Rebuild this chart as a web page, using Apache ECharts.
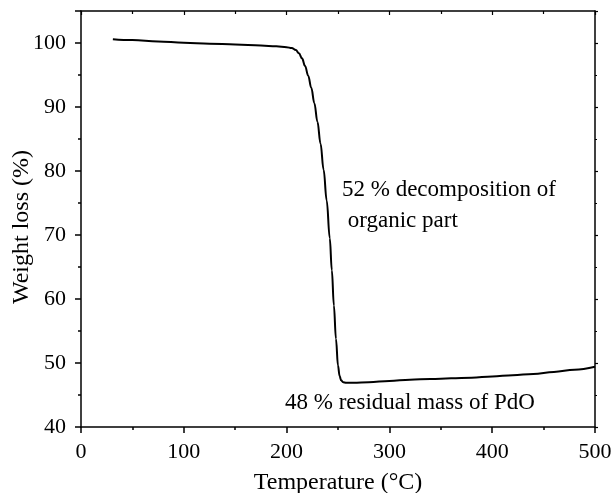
<!DOCTYPE html>
<html>
<head>
<meta charset="utf-8">
<script src="https://cdn.jsdelivr.net/npm/echarts@6/dist/echarts.min.js"></script>
<style>html,body{margin:0;padding:0;background:#fff;}#c{width:613px;height:493px;}</style>
</head>
<body>
<div id="c"></div>
<script>
var temperature = [31, 50, 75, 100, 125, 150, 175, 190, 200, 205, 209, 212, 215, 218, 221, 224, 227, 230, 233, 236, 239, 242, 244, 246, 248, 250, 251.5, 253, 255, 258, 265, 280, 300, 320, 340, 360, 380, 400, 420, 440, 460, 480, 500];
var weight = [100.6, 100.45, 100.25, 100.05, 99.9, 99.75, 99.6, 99.5, 99.35, 99.2, 98.9, 98.4, 97.6, 96.4, 94.9, 93.0, 90.6, 87.7, 84.3, 80.2, 75.4, 69.5, 64.5, 59.0, 53.8, 49.6, 48.0, 47.3, 47.0, 46.9, 46.9, 47.0, 47.2, 47.4, 47.5, 47.6, 47.7, 47.9, 48.1, 48.3, 48.6, 48.95, 49.4];
var xTicks = [0, 100, 200, 300, 400, 500];
var yTicks = [40, 50, 60, 70, 80, 90, 100];
var annotations = ['52 % decomposition of', ' organic part', '48 % residual mass of PdO'];

var font = '"Liberation Serif", "DejaVu Serif", serif';
var chart = echarts.init(document.getElementById('c'), null, {renderer: 'canvas'});
var data = temperature.map(function (t, i) { return [t, weight[i]]; });
var lineStyleAxis = {color: '#000', width: 1.5};
chart.setOption({
  animation: false,
  grid: {left: 81, right: 18, top: 11, bottom: 66, containLabel: false, outerBoundsMode: 'none'},
  xAxis: [{
    type: 'value', min: 0, max: 500, interval: 100, position: 'bottom',
    name: 'Temperature (°C)', nameLocation: 'middle', nameGap: 44,
    nameTextStyle: {fontFamily: font, fontSize: 24, color: '#000'},
    axisLine: {show: true, lineStyle: lineStyleAxis},
    axisTick: {show: true, inside: false, length: 6, lineStyle: {color: '#000', width: 1.5}},
    minorTick: {show: true, splitNumber: 2, length: 3, lineStyle: {color: '#000', width: 1.5}},
    axisLabel: {fontFamily: font, fontSize: 22, color: '#000', margin: 14,
      formatter: function (v) { return xTicks.indexOf(v) >= 0 ? String(v) : ''; }},
    splitLine: {show: false}
  }, {
    type: 'value', min: 0, max: 500, interval: 100, position: 'top',
    axisLine: {show: true, onZero: false, lineStyle: lineStyleAxis},
    axisTick: {show: true, inside: true, length: 4, lineStyle: {color: '#000', width: 1.2}},
    minorTick: {show: true, splitNumber: 2, length: 3, lineStyle: {color: '#000', width: 1.2}},
    axisLabel: {show: false},
    splitLine: {show: false}
  }],
  yAxis: [{
    type: 'value', min: 40, max: 105, interval: 10, position: 'left',
    name: 'Weight loss (%)', nameLocation: 'middle', nameGap: 47, nameMoveOverlap: false,
    nameTextStyle: {fontFamily: font, fontSize: 24, color: '#000', padding: [0, 16, 0, 0]},
    axisLine: {show: true, lineStyle: lineStyleAxis},
    axisTick: {show: true, inside: false, length: 6, lineStyle: {color: '#000', width: 1.5}},
    minorTick: {show: true, splitNumber: 2, length: 3, lineStyle: {color: '#000', width: 1.5}},
    axisLabel: {fontFamily: font, fontSize: 22, color: '#000', margin: 15,
      formatter: function (v) { return yTicks.indexOf(v) >= 0 ? String(v) : ''; }},
    splitLine: {show: false}
  }, {
    type: 'value', min: 40, max: 105, interval: 10, position: 'right',
    axisLine: {show: true, onZero: false, lineStyle: lineStyleAxis},
    axisTick: {show: true, inside: false, length: 3, lineStyle: {color: '#000', width: 1.2}},
    minorTick: {show: true, splitNumber: 2, length: 2, lineStyle: {color: '#000', width: 1.2}},
    axisLabel: {show: false},
    splitLine: {show: false}
  }],
  series: [{
    type: 'line', xAxisIndex: 0, yAxisIndex: 0, data: data,
    showSymbol: false, symbol: 'none', smooth: 0.4, smoothMonotone: 'x',
    lineStyle: {color: '#000', width: 2}
  }],
  graphic: [
    {type: 'text', left: 342, top: 178, style: {text: annotations[0], font: '23px ' + font, fill: '#000'}},
    {type: 'text', left: 342, top: 209, style: {text: annotations[1], font: '23px ' + font, fill: '#000'}},
    {type: 'text', left: 285, top: 391, style: {text: annotations[2], font: '23px ' + font, fill: '#000'}}
  ]
});
</script>
</body>
</html>
